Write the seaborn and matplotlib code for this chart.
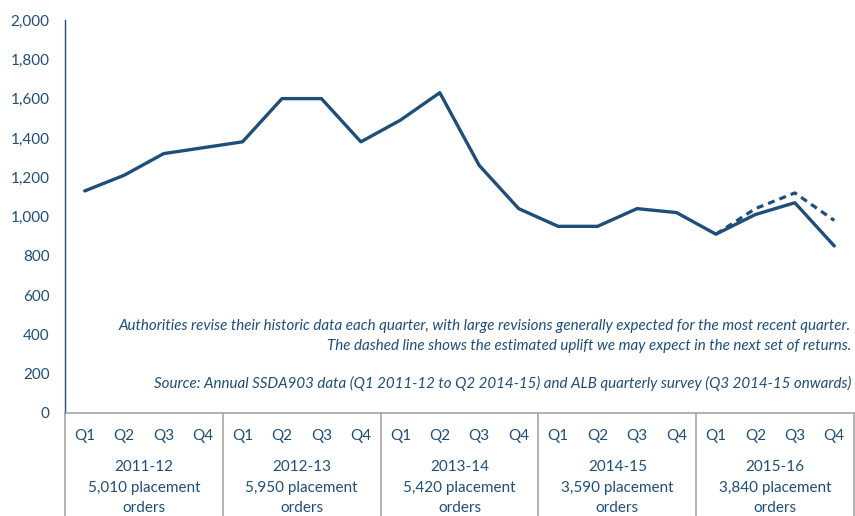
"""
Placement orders per quarter, 2011-12 to 2015-16
Output: out.png
"""

import pandas as pd
import matplotlib.pyplot as plt
import matplotlib.transforms as mtransforms
import seaborn as sns

# ── data ─────────────────────────────────────────────────────────────────────
quarters = ["Q1", "Q2", "Q3", "Q4"]
years = ["2011-12", "2012-13", "2013-14", "2014-15", "2015-16"]
year_totals = ["5,010", "5,950", "5,420", "3,590", "3,840"]
orders = [1130, 1210, 1320, 1350,
          1380, 1600, 1600, 1380,
          1490, 1630, 1260, 1040,
          950, 950, 1040, 1020,
          910, 1010, 1070, 850]
# estimated uplift for the latest year (dashed)
uplift_idx = [16, 17, 18, 19]
uplift = [910, 1040, 1120, 980]

note_1 = ("Authorities revise their historic data each quarter, with large revisions "
          "generally expected for the most recent quarter.")
note_2 = "The dashed line shows the estimated uplift we may expect in the next set of returns."
source = ("Source: Annual SSDA903 data (Q1 2011-12 to Q2 2014-15) and ALB quarterly "
          "survey (Q3 2014-15 onwards)")

BLUE = "#1F4E79"
GREY = "#A6A6A6"

sns.set_style("white")
plt.rcParams["font.family"] = ["Lato", "DejaVu Sans"]

df = pd.DataFrame({"pos": range(len(orders)), "orders": orders})
df_up = pd.DataFrame({"pos": uplift_idx, "orders": uplift})

W, H = 855, 516
fig = plt.figure(figsize=(W / 100, H / 100), dpi=100)
ax = fig.add_axes([65 / W, (H - 413) / H, (854 - 65) / W, (413 - 20) / H])

sns.lineplot(data=df_up, x="pos", y="orders", ax=ax, color=BLUE,
             linewidth=2.3, linestyle=(0, (2.2, 1.6)))
sns.lineplot(data=df, x="pos", y="orders", ax=ax, color=BLUE, linewidth=2.4)

ax.set_xlim(-0.5, len(orders) - 0.5)
ax.set_ylim(0, 2000)
ax.set_yticks(range(0, 2001, 200))
ax.set_yticklabels([f"{v:,}" for v in range(0, 2001, 200)])
ax.tick_params(axis="y", length=0, pad=11, labelsize=11, labelcolor=BLUE)
ax.set_xticks([])
ax.set_xlabel("")
ax.set_ylabel("")

for side in ["top", "right"]:
    ax.spines[side].set_visible(False)
ax.spines["left"].set_color(BLUE)
ax.spines["left"].set_linewidth(1.0)
ax.spines["bottom"].set_color(GREY)
ax.spines["bottom"].set_linewidth(1.2)

# ── grouped category axis ────────────────────────────────────────────────────
trans = mtransforms.blended_transform_factory(ax.transData, fig.transFigure)
for k in range(len(years) + 1):
    ax.plot([k * 4 - 0.5, k * 4 - 0.5], [(H - 413) / H, 0], transform=trans,
            color=GREY, linewidth=1.2, clip_on=False)

for i in range(len(orders)):
    ax.text(i, (H - 436) / H, quarters[i % 4], transform=trans, ha="center",
            va="center", fontsize=11, color=BLUE)

for k, (yr, tot) in enumerate(zip(years, year_totals)):
    xc = k * 4 + 1.5
    ax.text(xc, (H - 467) / H, yr, transform=trans, ha="center", va="center",
            fontsize=11, color=BLUE)
    ax.text(xc, (H - 488) / H, f"{tot} placement", transform=trans,
            ha="center", va="center", fontsize=11, color=BLUE)
    ax.text(xc, (H - 508) / H, "orders", transform=trans, ha="center",
            va="center", fontsize=11, color=BLUE)

# ── notes ────────────────────────────────────────────────────────────────────
for txt, ypx in [(note_1, 326), (note_2, 346), (source, 383)]:
    fig.text(851 / W, (H - ypx) / H, txt, ha="right", va="center",
             fontsize=10.9, style="italic", color=BLUE)

plt.savefig("out.png", dpi=100)
plt.close()
